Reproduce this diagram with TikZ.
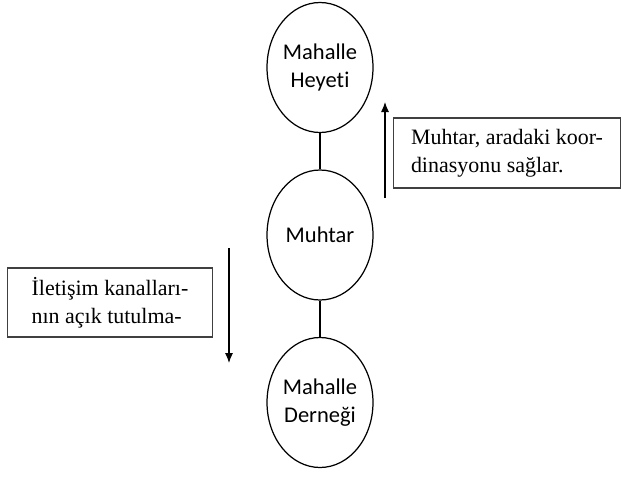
\documentclass[tikz,border=0pt]{standalone}
\usepackage{fontspec}
\setmainfont{Liberation Serif}
\newfontfamily\unitfont[RawFeature=-liga]{Carlito}
\usetikzlibrary{shapes.geometric,arrows.meta}

\begin{document}
\begin{tikzpicture}[x=0.02cm,y=-0.02cm,
    unit/.style={draw,ellipse,line width=0.7pt,minimum width=2.12cm,minimum height=2.6cm,
        inner sep=0pt,align=center,font=\unitfont\fontsize{12.8}{16}\selectfont},
    note/.style={draw=black!75,line width=0.6pt,inner xsep=0.28cm,inner ysep=0pt,
        align=left,anchor=west,font=\fontsize{12.5}{16}\selectfont},
    link/.style={line width=1.5pt},
    flow/.style={line width=0.6pt,-{Latex[length=0.2cm,width=0.16cm]}}]
    \useasboundingbox (0,0) rectangle (621,477);
        %% the three units
        \node[unit] (heyet) at (320,67.5) {Mahalle\\Heyeti};
        \node[unit] (muhtar) at (320,235) {Muhtar};
        \node[unit] (dernek) at (320,402.5) {Mahalle\\Derneği};
        \draw[link] (heyet) -- (muhtar);
        \draw[link] (muhtar) -- (dernek);
        %% upward note
        \node[note,minimum width=4.54cm,minimum height=1.4cm] (koord) at (393,153)
            {Muhtar, aradaki koor-\\dinasyonu sağlar.};
        \coordinate (upfrom) at (385,198);
        \coordinate (upto) at (385,102);
        \draw[flow] (upfrom) -- (upto);
        %% downward note
        \node[note,minimum width=4.1cm,minimum height=1.38cm] (kanal) at (7,302.5)
            {İletişim kanalları-\\nın açık tutulma-};
        \coordinate (downfrom) at (229,248);
        \coordinate (downto) at (229,363);
        \draw[flow] (downfrom) -- (downto);
    \end{tikzpicture}
\end{document}
